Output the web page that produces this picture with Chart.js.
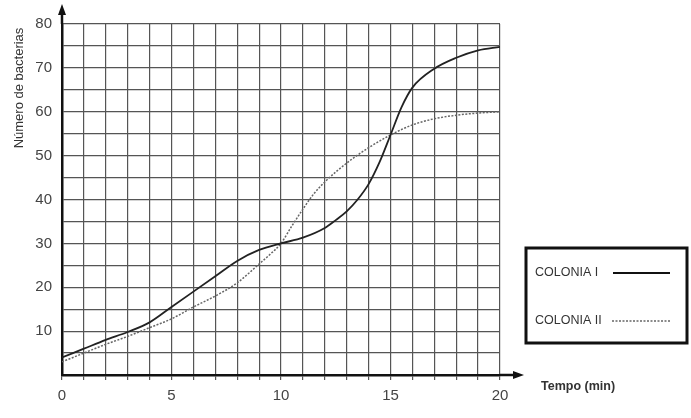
<!DOCTYPE html>
<html>
<head>
<meta charset="utf-8">
<script src="https://cdn.jsdelivr.net/npm/chart.js@4.4.1/dist/chart.umd.min.js"></script>
<style>
  html, body { margin: 0; padding: 0; background: #fff; }
  #chart { display: block; }
</style>
</head>
<body>
<canvas id="chart" width="691" height="418"></canvas>
<script>
// datos
const colonia1X = [0, 1, 2, 3, 4, 5, 6, 7, 8, 9, 10, 11, 12, 12.5, 13, 13.5, 14, 14.5, 15, 15.5, 16, 17, 18, 19, 20];
const colonia1Y = [4, 6, 8, 9.8, 12, 15.5, 19, 22.5, 26, 28.5, 30, 31.3, 33.5, 35.3, 37.3, 40, 43.5, 48.5, 54.7, 61, 65.5, 69.8, 72.3, 74, 74.8];
const colonia2X = [0, 1, 2, 3, 4, 5, 6, 7, 8, 9, 9.5, 10, 10.5, 11, 11.5, 12, 13, 14, 15, 16, 17, 18, 19, 20];
const colonia2Y = [3, 5, 7, 8.8, 10.8, 12.8, 15.5, 18, 21, 25.3, 27.5, 30, 34, 37.8, 41.3, 44, 48.3, 51.8, 54.7, 57, 58.4, 59.2, 59.7, 60];
const xTicks = [0, 5, 10, 15, 20];
const yTicks = [10, 20, 30, 40, 50, 60, 70, 80];
const seriesNames = ['COLONIA I', 'COLONIA II'];

const fontFam = "'Liberation Sans', Arial, sans-serif";

const toPoints = (xs, ys) => xs.map((x, i) => ({ x: x, y: ys[i] }));

// flechas, titulos de ejes y leyenda
const decoPlugin = {
    id: 'deco',
    afterDraw: (chart) => {
        const ctx = chart.ctx;
        const area = chart.chartArea;
        ctx.save();
        ctx.strokeStyle = '#111';
        ctx.fillStyle = '#111';
        ctx.lineWidth = 2.5;

        // eje x prolongado con flecha
        ctx.beginPath();
        ctx.moveTo(area.right, area.bottom);
        ctx.lineTo(area.right + 16, area.bottom);
        ctx.stroke();
        ctx.beginPath();
        ctx.moveTo(area.right + 24, area.bottom);
        ctx.lineTo(area.right + 13, area.bottom - 4);
        ctx.lineTo(area.right + 13, area.bottom + 4);
        ctx.closePath();
        ctx.fill();

        // eje y prolongado con flecha
        ctx.beginPath();
        ctx.moveTo(area.left, area.top);
        ctx.lineTo(area.left, area.top - 12);
        ctx.stroke();
        ctx.beginPath();
        ctx.moveTo(area.left, area.top - 20);
        ctx.lineTo(area.left - 4, area.top - 9);
        ctx.lineTo(area.left + 4, area.top - 9);
        ctx.closePath();
        ctx.fill();

        // titulo eje y
        ctx.fillStyle = '#333';
        ctx.font = '13px ' + fontFam;
        ctx.textAlign = 'center';
        ctx.textBaseline = 'middle';
        ctx.translate(19, 88);
        ctx.rotate(-Math.PI / 2);
        ctx.fillText('Número de bacterias', 0, 0);
        ctx.setTransform(1, 0, 0, 1, 0, 0);

        // titulo eje x
        ctx.font = 'bold 12.5px ' + fontFam;
        ctx.textAlign = 'left';
        ctx.fillText('Tempo (min)', 541, 387);

        // leyenda
        ctx.lineWidth = 3;
        ctx.strokeStyle = '#111';
        ctx.strokeRect(526, 248, 161, 95);
        ctx.font = '12.5px ' + fontFam;
        ctx.fillStyle = '#333';
        ctx.fillText(seriesNames[0], 535, 273);
        ctx.fillText(seriesNames[1], 535, 321);
        ctx.lineWidth = 1.8;
        ctx.beginPath();
        ctx.moveTo(613, 273);
        ctx.lineTo(670, 273);
        ctx.stroke();
        ctx.strokeStyle = '#666';
        ctx.lineWidth = 1.4;
        ctx.setLineDash([2, 1.5]);
        ctx.beginPath();
        ctx.moveTo(612, 321);
        ctx.lineTo(670, 321);
        ctx.stroke();
        ctx.restore();
    }
};

new Chart(document.getElementById('chart'), {
    type: 'line',
    data: {
        datasets: [{
            label: seriesNames[0],
            data: toPoints(colonia1X, colonia1Y),
            borderColor: '#222',
            borderWidth: 1.8,
            pointRadius: 0,
            cubicInterpolationMode: 'monotone',
            fill: false
        }, {
            label: seriesNames[1],
            data: toPoints(colonia2X, colonia2Y),
            borderColor: '#666',
            borderWidth: 1.5,
            borderDash: [2, 1.5],
            pointRadius: 0,
            cubicInterpolationMode: 'monotone',
            fill: false
        }]
    },
    options: {
        responsive: false,
        animation: false,
        layout: { padding: { left: 0, top: 24, right: 191, bottom: 0 } },
        plugins: {
            legend: { display: false },
            tooltip: { enabled: false }
        },
        scales: {
            x: {
                type: 'linear',
                min: 0,
                max: 20,
                afterFit: (scale) => { scale.height = 43; },
                border: { color: '#111', width: 2.5 },
                grid: { color: '#555', lineWidth: 1.2, tickLength: 5 },
                ticks: {
                    stepSize: 1,
                    autoSkip: false,
                    maxRotation: 0,
                    padding: 7,
                    color: '#444',
                    font: { family: fontFam, size: 15 },
                    callback: (v) => xTicks.includes(v) ? String(v) : ''
                }
            },
            y: {
                min: 0,
                max: 80,
                afterFit: (scale) => { scale.width = 62; },
                border: { color: '#111', width: 2.5 },
                grid: { color: '#555', lineWidth: 1.2, drawTicks: false },
                ticks: {
                    stepSize: 5,
                    autoSkip: false,
                    padding: 10,
                    color: '#444',
                    font: { family: fontFam, size: 15 },
                    callback: (v) => yTicks.includes(v) ? String(v) : ''
                }
            }
        }
    },
    plugins: [decoPlugin]
});
</script>
</body>
</html>
